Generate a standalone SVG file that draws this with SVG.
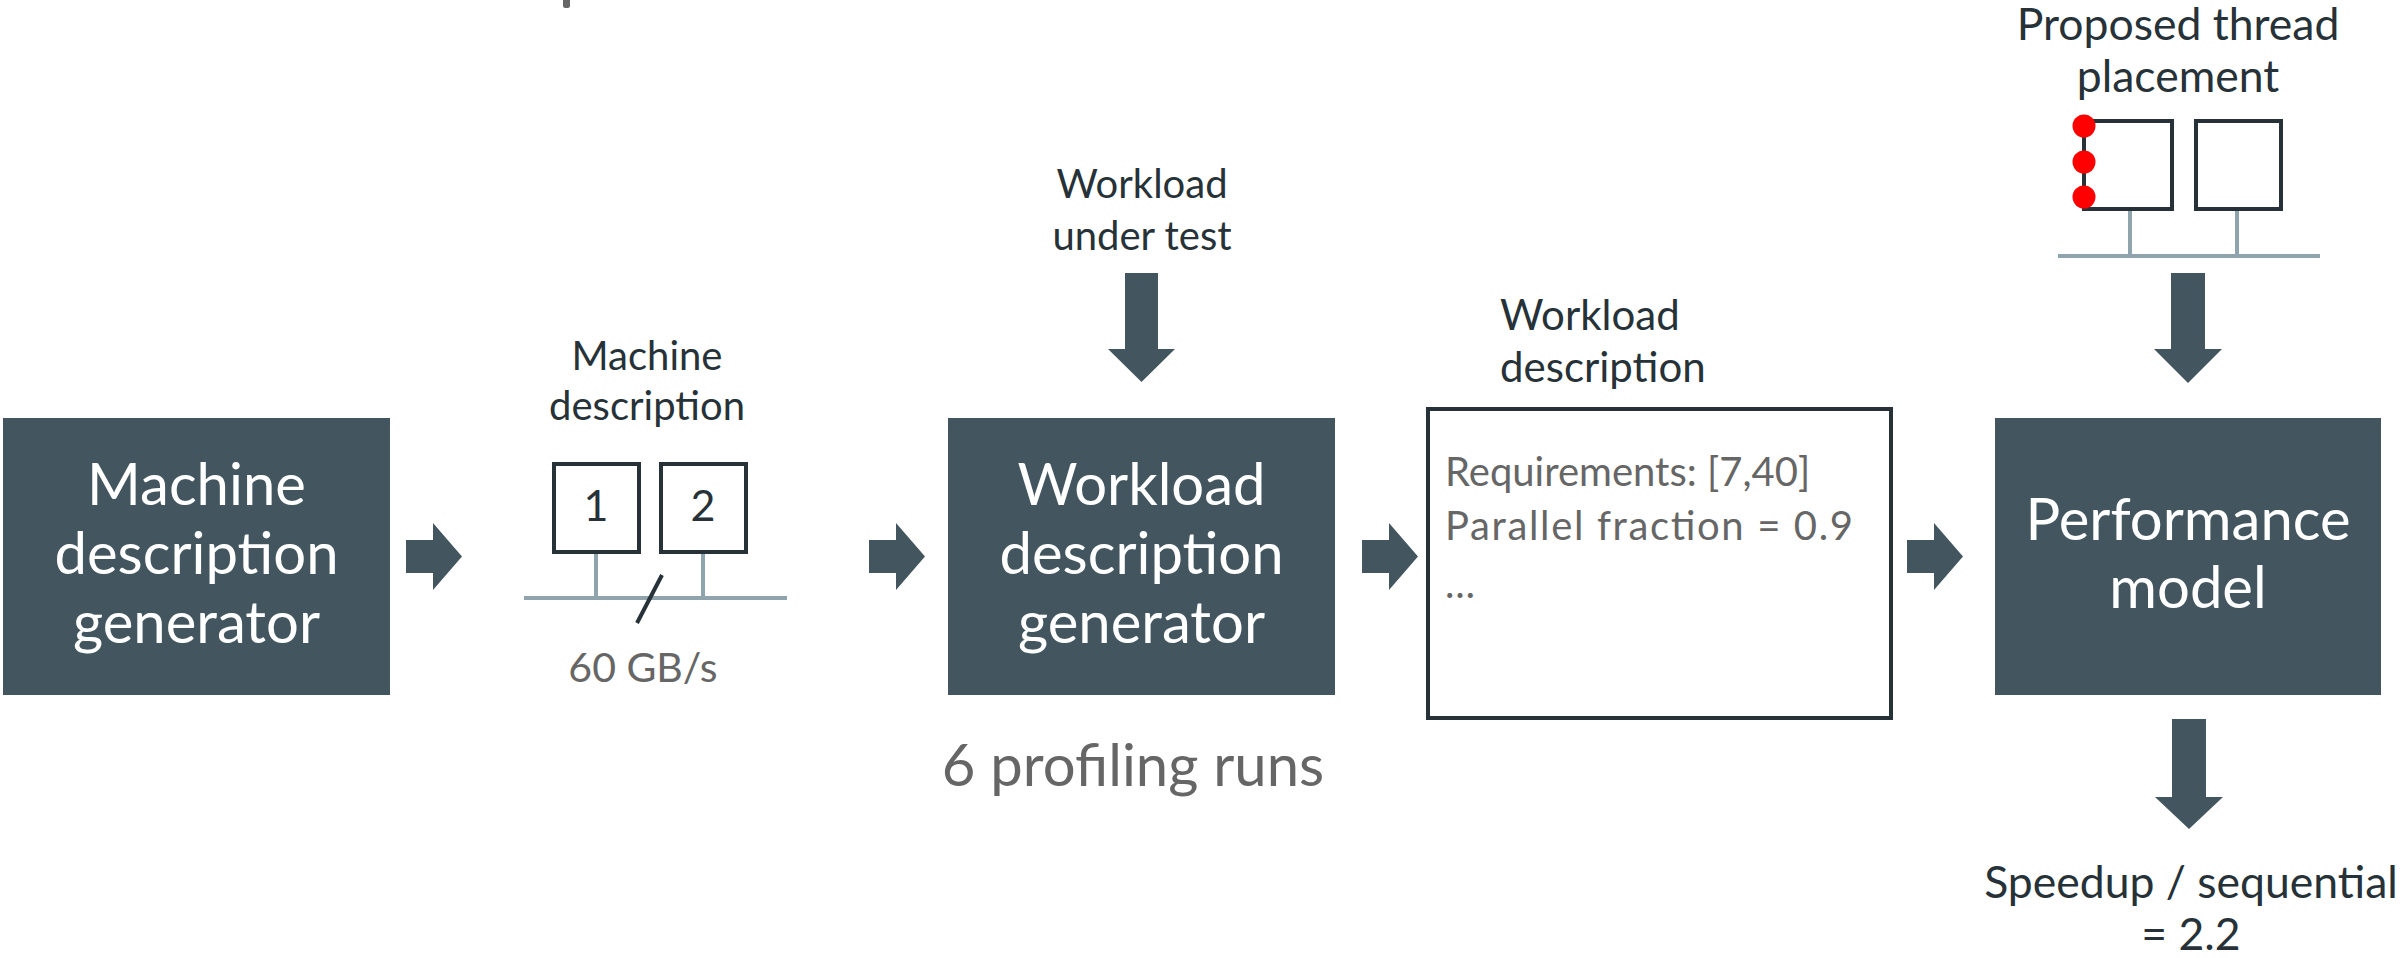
<svg xmlns="http://www.w3.org/2000/svg" width="2405" height="958" viewBox="0 0 2405 958">
<style>
.box{fill:#43565f}
.arrow{fill:#43565f}
.btxt{font-family:Lato,"Open Sans",sans-serif;font-size:58px;fill:#ffffff;text-anchor:middle}
.lbl{font-family:Lato,"Open Sans",sans-serif;font-size:40px;fill:#263238;text-anchor:middle}
.lbl2{font-family:Lato,"Open Sans",sans-serif;font-size:44.5px;fill:#263238;text-anchor:middle}
.gray{font-family:Lato,"Open Sans",sans-serif;fill:#666666}
.core{fill:#ffffff;stroke:#263238;stroke-width:4}
.bus{stroke:#90a4ae;stroke-width:4;fill:none}
.dot{fill:#ff0000}
</style>
<rect width="2405" height="958" fill="#ffffff"/>
<rect x="563" y="-4" width="7" height="12" rx="2.5" fill="#666666"/>

<g id="machine-generator">
<rect class="box" x="3" y="418" width="387" height="277"/>
<text class="btxt" x="196.5" y="505">Machine</text>
<text class="btxt" x="196.5" y="574">description</text>
<text class="btxt" x="196.5" y="643">generator</text>
</g>

<g id="machine-description">
<text class="lbl" x="647" y="370">Machine</text>
<text class="lbl" x="647" y="420">description</text>
<line class="bus" x1="524" y1="598" x2="787" y2="598"/>
<line class="bus" x1="596" y1="552" x2="596" y2="598"/>
<line class="bus" x1="703" y1="552" x2="703" y2="598"/>
<rect class="core" x="554" y="464" width="85" height="88"/>
<rect class="core" x="661" y="464" width="85" height="88"/>
<text class="lbl" x="596" y="521" style="font-size:43px">1</text>
<text class="lbl" x="703" y="521" style="font-size:43px">2</text>
<line x1="662" y1="575" x2="637" y2="623" stroke="#263238" stroke-width="4"/>
<text class="gray" x="643" y="682" font-size="41" text-anchor="middle">60 GB/s</text>
</g>

<g id="workload-under-test">
<text class="lbl" x="1142" y="198">Workload</text>
<text class="lbl" x="1142" y="250">under test</text>
</g>

<g id="workload-generator">
<rect class="box" x="948" y="418" width="387" height="277"/>
<text class="btxt" x="1141.5" y="505">Workload</text>
<text class="btxt" x="1141.5" y="574">description</text>
<text class="btxt" x="1141.5" y="643">generator</text>
<text class="gray" x="1133" y="786" font-size="58" text-anchor="middle">6 profiling runs</text>
</g>

<g id="workload-description">
<text class="lbl" x="1500" y="330" style="text-anchor:start;font-size:42px">Workload</text>
<text class="lbl" x="1500" y="382" style="text-anchor:start;font-size:42px">description</text>
<rect x="1428" y="409" width="463" height="309" fill="#ffffff" stroke="#263238" stroke-width="4"/>
<text class="gray" x="1445" y="486" font-size="40">Requirements: [7,40]</text>
<text class="gray" x="1445" y="540" font-size="40" textLength="408" lengthAdjust="spacing">Parallel fraction = 0.9</text>
<text class="gray" x="1445" y="598" font-size="40">…</text>
</g>

<g id="thread-placement">
<text class="lbl2" x="2178" y="40">Proposed thread</text>
<text class="lbl2" x="2178" y="92">placement</text>
<line class="bus" x1="2058" y1="256" x2="2320" y2="256"/>
<line class="bus" x1="2130" y1="209" x2="2130" y2="256"/>
<line class="bus" x1="2237" y1="209" x2="2237" y2="256"/>
<rect class="core" x="2084" y="121" width="88" height="88"/>
<rect class="core" x="2196" y="121" width="85" height="88"/>
<circle class="dot" cx="2084" cy="126" r="11.5"/>
<circle class="dot" cx="2084" cy="162" r="11.5"/>
<circle class="dot" cx="2084" cy="197" r="11.5"/>
</g>

<g id="performance-model">
<rect class="box" x="1995" y="418" width="386" height="277"/>
<text class="btxt" x="2188" y="540">Performance</text>
<text class="btxt" x="2188" y="608">model</text>
</g>

<g id="speedup">
<text class="lbl2" x="2191" y="898">Speedup / sequential</text>
<text class="lbl2" x="2191" y="950">= 2.2</text>
</g>

<g id="connectors">
<path class="arrow" d="M406,540 h27 v-17 l29,33.5 l-29,33.5 v-17 h-27 z"/>
<path class="arrow" d="M869,540 h27 v-17 l29,33.5 l-29,33.5 v-17 h-27 z"/>
<path class="arrow" d="M1362,540 h27 v-17 l29,33.5 l-29,33.5 v-17 h-27 z"/>
<path class="arrow" d="M1907,540 h27 v-17 l29,33.5 l-29,33.5 v-17 h-27 z"/>
<path class="arrow" d="M1125,273 h33 v76 h17 l-33.5,33 l-33.5,-33 h17 z"/>
<path class="arrow" d="M2171,273 h34 v76 h17 l-34,34 l-34,-34 h17 z"/>
<path class="arrow" d="M2172,719 h34 v78 h17 l-34,32 l-34,-32 h17 z"/>
</g>
</svg>
